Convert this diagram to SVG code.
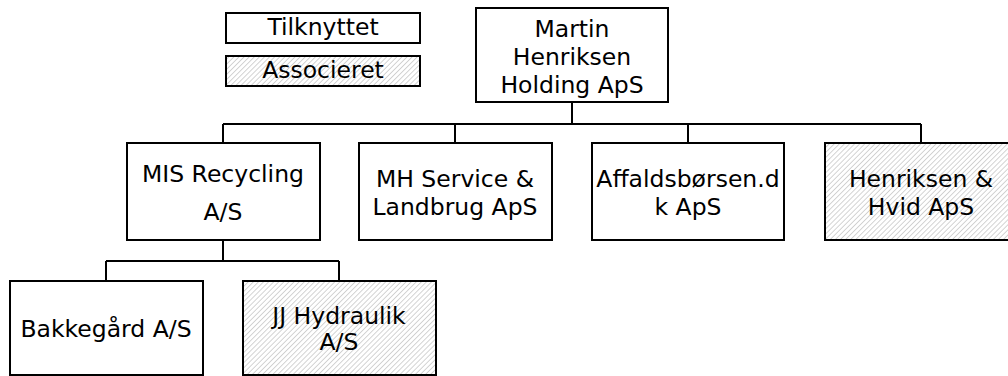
<svg xmlns="http://www.w3.org/2000/svg" width="1008" height="376" viewBox="0 0 1008 376">
<style>
.box{fill:#fff;stroke:#000;stroke-width:2}
.hatch{fill:url(#hatch);stroke:#000;stroke-width:2}
.t{font-family:"DejaVu Sans",sans-serif;font-size:23.5px;fill:#000;text-anchor:middle}
.c{fill:none;stroke:#000;stroke-width:2}
</style>
<defs>
<pattern id="hatch" patternUnits="userSpaceOnUse" width="3.6" height="3.6" patternTransform="rotate(45)">
<rect width="3.6" height="3.6" fill="#fff"/>
<line x1="0" y1="0" x2="0" y2="3.6" stroke="#a8a8a8" stroke-width="1"/>
</pattern>
</defs>
<g id="connectors">
<path class="c" d="M572 102V124M223 124H921M223 124V143M455 124V143M688 124V143M921 124V143"/>
<path class="c" d="M223 240V261M106 261H339M106 261V281M339 261V281"/>
</g>
<g id="legend-tilknyttet">
<rect class="box" x="226" y="13" width="194" height="30"/>
<text class="t" x="323" y="35">Tilknyttet</text>
</g>
<g id="legend-associeret">
<rect class="hatch" x="226" y="56" width="194" height="30"/>
<text class="t" x="323" y="78">Associeret</text>
</g>
<g id="martin">
<rect class="box" x="476" y="8" width="192" height="94"/>
<text class="t" x="572" y="37">Martin</text>
<text class="t" x="572" y="65">Henriksen</text>
<text class="t" x="572" y="93">Holding ApS</text>
</g>
<g id="mis">
<rect class="box" x="127" y="143" width="193" height="97"/>
<text class="t" x="223" y="182">MIS Recycling</text>
<text class="t" x="223" y="220">A/S</text>
</g>
<g id="mh">
<rect class="box" x="359" y="143" width="193" height="97"/>
<text class="t" x="455" y="187">MH Service &amp;</text>
<text class="t" x="455" y="215">Landbrug ApS</text>
</g>
<g id="affald">
<rect class="box" x="592" y="143" width="192" height="97"/>
<text class="t" x="688" y="187">Affaldsbørsen.d</text>
<text class="t" x="688" y="215">k ApS</text>
</g>
<g id="hh">
<rect class="hatch" x="825" y="143" width="193" height="97"/>
<text class="t" x="921" y="187">Henriksen &amp;</text>
<text class="t" x="921" y="215">Hvid ApS</text>
</g>
<g id="bakke">
<rect class="box" x="10" y="281" width="193" height="94"/>
<text class="t" x="106" y="337">Bakkegård A/S</text>
</g>
<g id="jj">
<rect class="hatch" x="243" y="281" width="193" height="94"/>
<text class="t" x="339" y="324">JJ Hydraulik</text>
<text class="t" x="339" y="350">A/S</text>
</g>
</svg>
